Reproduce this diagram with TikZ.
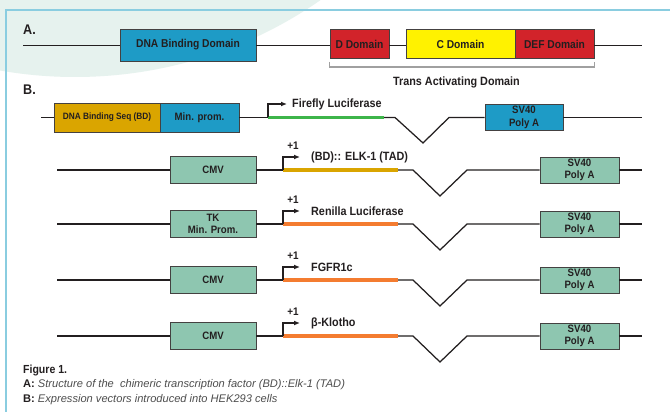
\documentclass[tikz,border=0pt]{standalone}
\usepackage{fontspec}
\setmainfont{Liberation Sans}
\newfontfamily\condf{Liberation Sans}[FakeStretch=0.9]
\usetikzlibrary{arrows.meta}
\definecolor{cyanb}{HTML}{1E9BC6}
\definecolor{goldb}{HTML}{DAA500}
\definecolor{redb}{HTML}{D2232A}
\definecolor{yelb}{HTML}{FFF200}
\definecolor{tealb}{HTML}{8EC6B0}
\definecolor{greenl}{HTML}{3DB54A}
\definecolor{orangel}{HTML}{F47C30}
\definecolor{bgteal}{HTML}{E6F2EE}
\definecolor{framec}{HTML}{8ACDE0}
\definecolor{ink}{HTML}{231F20}
\definecolor{capgray}{HTML}{4D4D4D}
\definecolor{brk}{HTML}{A0A0A0}
\newcommand{\myvecrow}[5]{%
 \coordinate (s#1) at (57,#2);
 \node[box, fill=tealb, minimum width=86pt, minimum height=27pt] (p#1) at (213,#2) {#3};
 \coordinate (g#1a) at (283,#2);
 \coordinate (g#1b) at (398,#2);
 \coordinate (v#1a) at (413,#2);
 \coordinate (v#1b) at (440,#2+26);
 \coordinate (v#1c) at (467,#2);
 \node[box, fill=tealb, minimum width=79pt, minimum height=26pt] (sv#1) at (579.5,#2) {SV40\\Poly A};
 \coordinate (e#1) at (642,#2);
 \draw[dna] (s#1) -- (p#1.west);
 \draw[dna] (p#1.east) -- (g#1a);
 \draw[gene, #4] (g#1a) -- (g#1b);
 \draw[dna] (g#1b) -- (v#1a) -- (v#1b) -- (v#1c) -- (sv#1.west);
 \draw[dna] (sv#1.east) -- (e#1);
 \node[lbl] (l#1) at (311,#2-13) {#5};
 \draw[prom] (g#1a) |- ([xshift=-11pt]l#1.west);
 \node[plus] (pl#1) at (293,#2-24) {+1};
}
\begin{document}
\begin{tikzpicture}[x=1pt,y=-1pt,
  box/.style={draw=ink!85, line width=0.9pt, inner sep=0pt, font=\condf\bfseries\fontsize{10.7}{12.5}\selectfont, text=ink, align=center},
  dna/.style={draw=ink, line width=1.25pt},
  gene/.style={line width=3.2pt},
  prom/.style={draw=ink, line width=1.2pt, -{Latex[length=6pt,width=5pt]}},
  lbl/.style={font=\condf\bfseries\fontsize{12}{13}\selectfont, text=ink, anchor=west, inner sep=0pt},
  plus/.style={font=\condf\bfseries\fontsize{11}{12}\selectfont, text=ink, inner sep=0pt},
  sect/.style={font=\condf\bfseries\fontsize{14}{15}\selectfont, text=ink, inner sep=0pt},
  abox/.style={box, font=\condf\bfseries\fontsize{11.4}{13}\selectfont}]
\useasboundingbox (0,0) rectangle (670,412);
\fill[white] (0,0) rectangle (670,412);
\begin{scope}
\clip (0,0) rectangle (670,412);
\fill[bgteal] (75,-353) circle[radius=430pt];
\end{scope}
\draw[framec, line width=2pt] (671,10) -- (6,10) -- (6,413);

% Section A
\node[sect] (secA) at (29.5,30) {A.};
\coordinate (a0) at (23,45.5);
\coordinate (a1) at (642,45.5);
\node[abox, fill=cyanb, minimum width=136pt, minimum height=32pt] (dbd) at (188,45) {DNA Binding Domain};
\node[abox, fill=redb, minimum width=59pt, minimum height=29pt] (dd) at (359.5,44) {D Domain};
\node[abox, fill=yelb, minimum width=109pt, minimum height=29pt] (cd) at (460.5,44) {C Domain};
\node[abox, fill=redb, minimum width=79pt, minimum height=29pt] (def) at (554.5,44) {DEF Domain};
\draw[dna] (a0) -- (a0 -| dbd.west);
\draw[dna] (dbd.east |- a0) -- (a0 -| dd.west);
\draw[dna] (dd.east |- a0) -- (a0 -| cd.west);
\draw[dna] (def.east |- a0) -- (a1);
\draw[brk, line width=1.1pt] (dd.west |- 0,62) -- (dd.west |- 0,67) -- (def.east |- 0,67) -- (def.east |- 0,62);
\node[lbl, anchor=center] (tad) at (456.5,82) {Trans Activating Domain};

% Section B
\node[sect] (secB) at (29.5,90) {B.};
\coordinate (r1s) at (41,117.5);
\node[box, fill=goldb, minimum width=106pt, minimum height=29pt, font=\condf\bfseries\fontsize{9.2}{10}\selectfont] (bdseq) at (107,117.5) {DNA Binding Seq (BD)};
\node[box, fill=cyanb, minimum width=79pt, minimum height=29pt] (minp) at (199.5,117.5) {Min. prom.};
\coordinate (r1g0) at (268,117.5);
\coordinate (r1g1) at (384,117.5);
\coordinate (r1v0) at (395,117.5);
\coordinate (r1v) at (423,143);
\coordinate (r1v1) at (449,117.5);
\node[box, fill=cyanb, minimum width=78pt, minimum height=26pt] (sv1) at (524,117.5) {SV40\\Poly A};
\coordinate (r1e) at (642,117.5);
\draw[dna] (r1s) -- (bdseq.west);
\draw[dna] (minp.east) -- (r1g0);
\draw[gene, greenl] (r1g0) -- (r1g1);
\draw[dna] (r1g1) -- (r1v0) -- (r1v) -- (r1v1) -- (sv1.west);
\draw[dna] (sv1.east) -- (r1e);
\node[lbl] (ff) at (292,104) {Firefly Luciferase};
\draw[prom] (r1g0) |- ([xshift=-5pt]ff.west);

\myvecrow{2}{170}{CMV}{goldb}{(BD):: ELK-1 (TAD)}
\myvecrow{3}{224}{TK\\Min. Prom.}{orangel}{Renilla Luciferase}
\myvecrow{4}{280}{CMV}{orangel}{FGFR1c}
\myvecrow{5}{336}{CMV}{orangel}{β-Klotho}

% Caption
\node[anchor=west, font=\condf\bfseries\fontsize{11.7}{13}\selectfont, text=ink, inner sep=0pt] (fig) at (23,370) {Figure 1.};
\node[anchor=west, font=\fontsize{11.1}{12}\selectfont, text=capgray, inner sep=0pt] (capA) at (23,385) {\textcolor{ink}{\textbf{A:}} \textit{Structure of the\ \ chimeric transcription factor (BD)::Elk-1 (TAD)}};
\node[anchor=west, font=\fontsize{11.1}{12}\selectfont, text=capgray, inner sep=0pt] (capB) at (23,400) {\textcolor{ink}{\textbf{B:}} \textit{Expression vectors introduced into HEK293 cells}};
\end{tikzpicture}
\end{document}
